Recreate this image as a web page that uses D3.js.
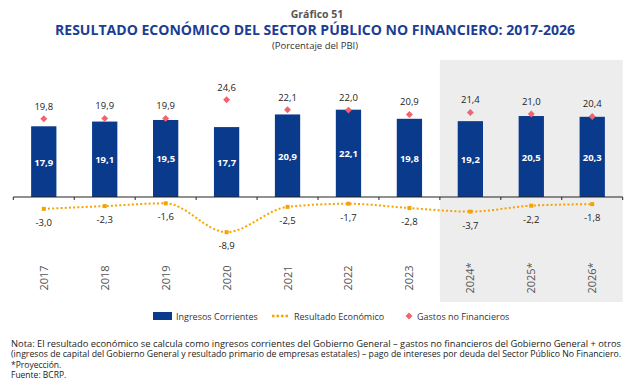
<!DOCTYPE html>
<html>
<head>
<meta charset="utf-8">
<script src="https://cdn.jsdelivr.net/npm/d3@7"></script>
<style>
  body { margin: 0; background: #fff; }
  text { font-family: "Open Sans", "Noto Sans", sans-serif; }
</style>
</head>
<body>
<svg id="chart" width="640" height="390"></svg>
<script>
const years = ["2017", "2018", "2019", "2020", "2021", "2022", "2023", "2024*", "2025*", "2026*"];
const ingresos = [17.9, 19.1, 19.5, 17.7, 20.9, 22.1, 19.8, 19.2, 20.5, 20.3];
const gastos = [19.8, 19.9, 19.9, 24.6, 22.1, 22.0, 20.9, 21.4, 21.0, 20.4];
const resultado = [-3.0, -2.3, -1.6, -8.9, -2.5, -1.7, -2.8, -3.7, -2.2, -1.8];
const proyeccion = ["2024*", "2025*", "2026*"];

const notas = [
  "Nota: El resultado económico se calcula como ingresos corrientes del Gobierno General \u2013 gastos no financieros del Gobierno General + otros",
  "(ingresos de capital del Gobierno General y resultado primario de empresas estatales) \u2013 pago de intereses por deuda del Sector Público No Financiero.",
  "*Proyección.",
  "Fuente: BCRP."
]

const svg = d3.select("#chart"),
    width = +svg.attr("width"),
    height = +svg.attr("height");

const blue = "#0a3a8c", orange = "#f5a300", red = "#f4626b";

const x = d3.scaleBand()
    .domain(years)
    .range([13.3, 622.7])
    .paddingInner(0.585)
    .paddingOuter(0.2925)

const y = d3.scaleLinear()
    .domain([-10, 30])
    .range([236.5, 78.5])

const step = x.step();
const edge = d => x(d) - step * x.paddingInner() / 2;

// projection shading
svg.append("rect")
    .attr("x", edge(proyeccion[0]))
    .attr("y", 60)
    .attr("width", x.range()[1] - edge(proyeccion[0]))
    .attr("height", 242)
    .attr("fill", "#ededed")

// titles
svg.append("text")
    .attr("x", 317).attr("y", 17.5)
    .attr("text-anchor", "middle")
    .style("font-size", "10.5px").style("font-weight", "bold")
    .attr("fill", "#555")
    .text("Gráfico 51")

svg.append("text")
    .attr("x", 315).attr("y", 35)
    .attr("text-anchor", "middle")
    .attr("textLength", 520).attr("lengthAdjust", "spacingAndGlyphs")
    .style("font-size", "14px").style("font-weight", "bold")
    .attr("fill", "#1c3d94")
    .text("RESULTADO ECONÓMICO DEL SECTOR PÚBLICO NO FINANCIERO: 2017-2026")

svg.append("text")
    .attr("x", 315).attr("y", 48.5)
    .attr("text-anchor", "middle")
    .style("font-size", "9.5px")
    .attr("fill", "#333")
    .text("(Porcentaje del PBI)")

// bars
svg.selectAll("rect.bar")
    .data(years)
    .join("rect")
      .attr("class", "bar")
      .attr("x", d => x(d))
      .attr("width", x.bandwidth())
      .attr("y", (d, i) => y(ingresos[i]))
      .attr("height", (d, i) => y(0) - y(ingresos[i]))
      .attr("fill", blue)

svg.selectAll("text.barlab")
    .data(years)
    .join("text")
      .attr("class", "barlab")
      .attr("x", d => x(d) + x.bandwidth() / 2)
      .attr("y", (d, i) => (y(ingresos[i]) + y(0)) / 2 + 4)
      .attr("text-anchor", "middle")
      .style("font-size", "9.5px").style("font-weight", "bold")
      .attr("fill", "#fff")
      .text((d, i) => d3.format(".1f")(ingresos[i]).replace(".", ","))

// axis
const axis = svg.append("g")
axis.append("line")
    .attr("x1", x.range()[0]).attr("x2", x.range()[1])
    .attr("y1", y(0)).attr("y2", y(0))
    .attr("stroke", "#222").attr("stroke-width", 1)
axis.selectAll("line.tick")
    .data(d3.range(years.length + 1))
    .join("line")
      .attr("class", "tick")
      .attr("x1", i => x.range()[0] + i * step)
      .attr("x2", i => x.range()[0] + i * step)
      .attr("y1", y(0)).attr("y2", y(0) + 3)
      .attr("stroke", "#222")

axis.selectAll("text.year")
    .data(years)
    .join("text")
      .attr("class", "year")
      .attr("transform", d => "translate(" + (x(d) + x.bandwidth() / 2 + 4) + ",278) rotate(-90)")
      .attr("text-anchor", "middle")
      .style("font-size", "11px")
      .attr("fill", "#555")
      .text(d => d)

// resultado line
const line = d3.line()
    .x((d, i) => x(years[i]) + x.bandwidth() / 2)
    .y(d => y(d))
    .curve(d3.curveMonotoneX)

svg.append("path")
    .attr("d", line(resultado))
    .attr("fill", "none")
    .attr("stroke", orange)
    .attr("stroke-width", 2)
    .attr("stroke-dasharray", "2,2.2")

svg.selectAll("rect.pt")
    .data(resultado)
    .join("rect")
      .attr("class", "pt")
      .attr("x", (d, i) => x(years[i]) + x.bandwidth() / 2 - 2)
      .attr("y", d => y(d) - 2)
      .attr("width", 4).attr("height", 4)
      .attr("fill", orange)

svg.selectAll("text.reslab")
    .data(resultado)
    .join("text")
      .attr("class", "reslab")
      .attr("x", (d, i) => x(years[i]) + x.bandwidth() / 2)
      .attr("y", d => y(d) + 17)
      .attr("text-anchor", "middle")
      .style("font-size", "9.5px")
      .attr("fill", "#222")
      .text(d => d3.format(".1f")(d).replace(".", ",").replace("\u2212", "-"))

// gastos diamonds
const diamond = d3.symbol(d3.symbolSquare, 24);
svg.selectAll("path.gasto")
    .data(gastos)
    .join("path")
      .attr("class", "gasto")
      .attr("d", diamond)
      .attr("transform", (d, i) => "translate(" + (x(years[i]) + x.bandwidth() / 2) + "," + y(d) + ") rotate(45)")
      .attr("fill", red)

svg.selectAll("text.gaslab")
    .data(gastos)
    .join("text")
      .attr("class", "gaslab")
      .attr("x", (d, i) => x(years[i]) + x.bandwidth() / 2)
      .attr("y", d => y(d) - 9)
      .attr("text-anchor", "middle")
      .style("font-size", "9.5px")
      .attr("fill", "#222")
      .text(d => d3.format(".1f")(d).replace(".", ","))

// legend
const leg = svg.append("g").style("font-size", "9px")
leg.append("rect").attr("x", 153).attr("y", 312).attr("width", 19).attr("height", 8).attr("fill", blue)
leg.append("text").attr("x", 176).attr("y", 319.5).attr("fill", "#333").text("Ingresos Corrientes")
leg.append("line").attr("x1", 272).attr("x2", 290).attr("y1", 316).attr("y2", 316)
    .attr("stroke", orange).attr("stroke-width", 2.5).attr("stroke-dasharray", "2.5,2")
leg.append("text").attr("x", 294).attr("y", 319.5).attr("fill", "#333").text("Resultado Económico")
leg.append("path").attr("d", diamond).attr("transform", "translate(409,316) rotate(45)").attr("fill", red)
leg.append("text").attr("x", 417).attr("y", 319.5).attr("fill", "#333").text("Gastos no Financieros")

// notes
svg.append("g")
    .selectAll("text")
    .data(notas)
    .join("text")
      .attr("x", 11)
      .attr("y", (d, i) => 347 + i * 10.3)
      .attr("textLength", (d, i) => i < 2 ? 610 : null)
      .attr("lengthAdjust", "spacingAndGlyphs")
      .style("font-size", "8.5px")
      .attr("fill", "#222")
      .text(d => d)
</script>
</body>
</html>
